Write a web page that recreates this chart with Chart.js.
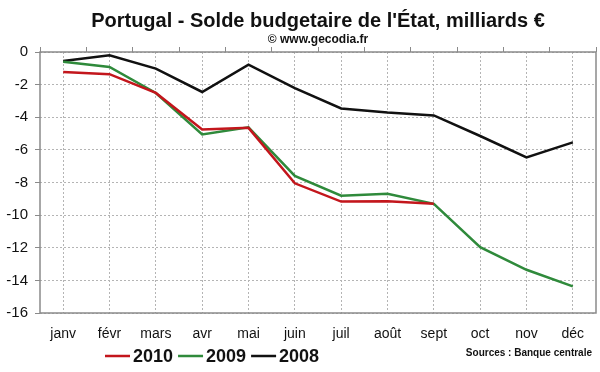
<!DOCTYPE html>
<html>
<head>
<meta charset="utf-8">
<script src="https://cdn.jsdelivr.net/npm/chart.js@4"></script>
<style>
  html, body { margin: 0; padding: 0; background: #fff; }
  #wrap { width: 600px; height: 372px; }
</style>
</head>
<body>
<div id="wrap"><canvas id="soldeChart" width="600" height="372"></canvas></div>
<script>
// months
const months = ['janv', 'févr', 'mars', 'avr', 'mai', 'juin', 'juil', 'août', 'sept', 'oct', 'nov', 'déc'];

// solde budgetaire cumule, milliards €
const solde2010 = [-1.22, -1.36, -2.51, -4.75, -4.65, -8.05, -9.17, -9.15, -9.31, null, null, null];
const solde2009 = [-0.6, -0.92, -2.51, -5.05, -4.62, -7.6, -8.81, -8.69, -9.31, -11.96, -13.35, -14.37];
const solde2008 = [-0.55, -0.2, -1.02, -2.45, -0.77, -2.22, -3.46, -3.71, -3.89, -5.15, -6.46, -5.54];

const yTicks = [0, -2, -4, -6, -8, -10, -12, -14, -16];

const FONT = "'Liberation Sans', Arial, sans-serif";
const gridGray = '#b4b4b4';
const boxGray = '#8a8a8a';

// titre, cadre, legende et source
const decorPlugin = {
    id: 'decor',
    beforeDatasetsDraw(chart) {
        const ctx = chart.ctx;
        const a = chart.chartArea;
        ctx.save();
        ctx.strokeStyle = boxGray;
        ctx.lineWidth = 1.5;
        ctx.strokeRect(a.left, a.top, a.right - a.left, a.bottom - a.top);
        ctx.restore();
    },
    afterDraw(chart) {
        const ctx = chart.ctx;
        const a = chart.chartArea;
        const cx = (a.left + a.right) / 2;
        ctx.save();
        ctx.fillStyle = '#111';
        ctx.textAlign = 'center';
        ctx.textBaseline = 'alphabetic';
        ctx.font = 'bold 20px ' + FONT;
        ctx.fillText("Portugal - Solde budgetaire de l'État, milliards €", cx, 27);
        ctx.font = 'bold 12px ' + FONT;
        ctx.fillText('© www.gecodia.fr', cx, 43);

        // legende
        ctx.font = 'bold 18px ' + FONT;
        ctx.textAlign = 'left';
        let x = 105;
        const y = 362;
        chart.data.datasets.forEach(ds => {
            ctx.strokeStyle = ds.borderColor;
            ctx.lineWidth = 2.5;
            ctx.beginPath();
            ctx.moveTo(x, y - 6);
            ctx.lineTo(x + 25, y - 6);
            ctx.stroke();
            ctx.fillStyle = '#111';
            ctx.fillText(ds.label, x + 28, y);
            x += 28 + ctx.measureText(ds.label).width + 5;
        });

        ctx.font = 'bold 10px ' + FONT;
        ctx.textAlign = 'right';
        ctx.fillText('Sources : Banque centrale', 592, 356);
        ctx.restore();
    }
};

const ctx = document.getElementById('soldeChart').getContext('2d');
new Chart(ctx, {
    type: 'line',
    data: {
        labels: months,
        datasets: [
            { label: '2010', data: solde2010, borderColor: '#c3161c' },
            { label: '2009', data: solde2009, borderColor: '#2f8a3b' },
            { label: '2008', data: solde2008, borderColor: '#111111' }
        ]
    },
    options: {
        responsive: false,
        animation: false,
        devicePixelRatio: 1,
        layout: { padding: { left: 0, right: 4, top: 0, bottom: 0 } },
        elements: {
            line: { borderWidth: 2.5, tension: 0, fill: false },
            point: { radius: 0, hoverRadius: 0 }
        },
        plugins: {
            legend: { display: false },
            title: { display: false },
            tooltip: { enabled: false }
        },
        scales: {
            x: {
                type: 'category',
                position: 'bottom',
                offset: true,
                grid: { color: gridGray, drawTicks: false, offset: false },
                border: { display: false, dash: [2, 2] },
                ticks: { color: '#111', font: { family: FONT, size: 14 }, padding: 13, maxRotation: 0, autoSkip: false },
                afterFit(scale) { scale.height = 59; }
            },
            x2: {
                type: 'category',
                position: 'top',
                labels: months,
                offset: true,
                grid: { offset: true, drawOnChartArea: false, drawTicks: true, tickLength: 5, color: boxGray, tickColor: boxGray },
                border: { display: false },
                ticks: { display: false },
                afterFit(scale) { scale.height = 52; }
            },
            y: {
                min: -16,
                max: 0,
                afterBuildTicks(scale) { scale.ticks = yTicks.map(v => ({ value: v })); },
                grid: { color: gridGray, tickColor: boxGray, tickLength: 5 },
                border: { display: false, dash: [2, 2] },
                ticks: { color: '#111', font: { family: FONT, size: 15 }, padding: 7 },
                afterFit(scale) { scale.width = 40; }
            }
        }
    },
    plugins: [decorPlugin]
});
</script>
</body>
</html>
